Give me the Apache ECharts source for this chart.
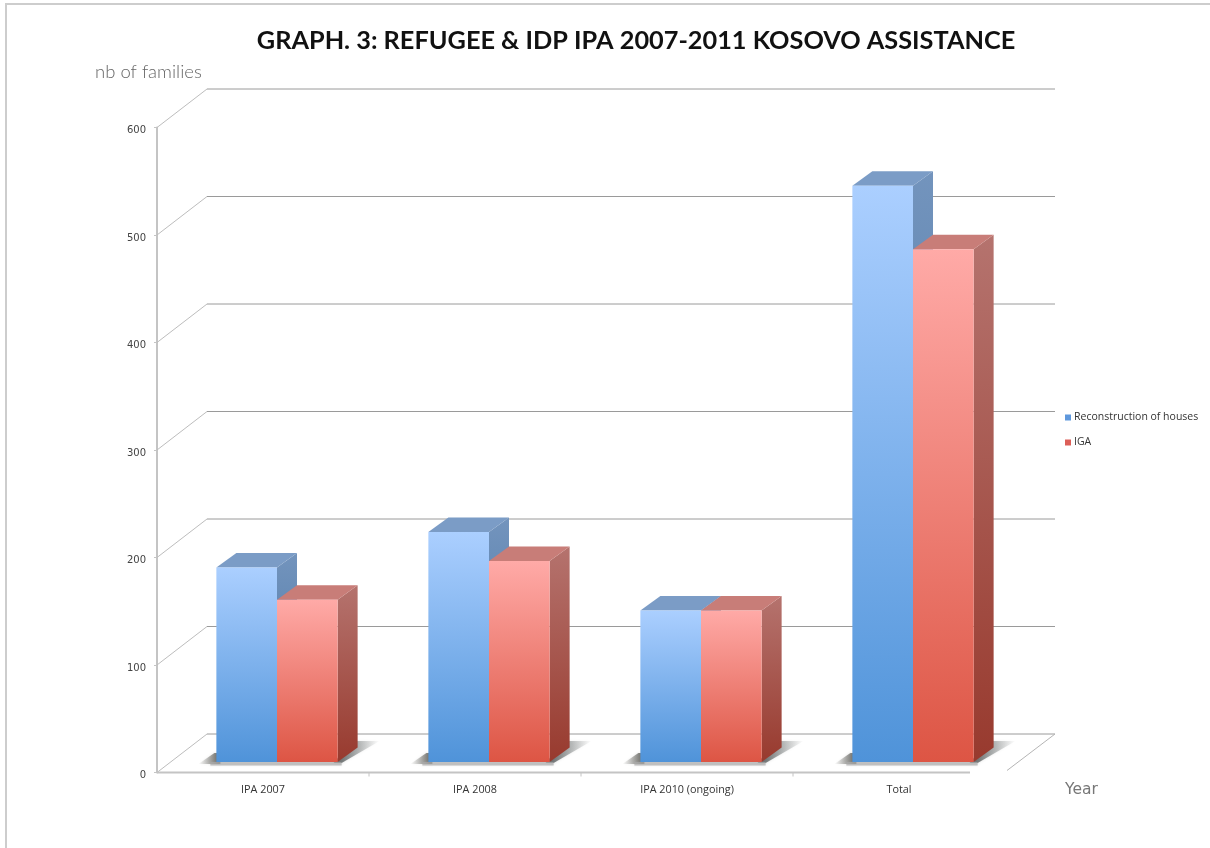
<!DOCTYPE html>
<html><head><meta charset="utf-8">
<style>html,body{margin:0;padding:0;background:#fff}#c{width:1210px;height:848px}</style>
<script src="https://cdn.jsdelivr.net/npm/echarts@6/dist/echarts.min.js"></script>
</head><body><div id="c"></div>
<script>
const categories = ['IPA 2007', 'IPA 2008', 'IPA 2010 (ongoing)', 'Total'];
const reconstruction = [181, 214, 141, 536];
const iga = [151, 187, 141, 477];
const yTicks = [0, 100, 200, 300, 400, 500, 600];

const WALL = [50, 38.5], BAR_INSET = [14, 10.5], BAR_DEPTH = [20, 14.5], BAR_FRACTION = 0.286;
const vg = (a, b) => new echarts.graphic.LinearGradient(0, 0, 0, 1, [{offset: 0, color: a}, {offset: 1, color: b}]);
const hg = (x0, x1, a, b) => new echarts.graphic.LinearGradient(x0, 0, x1, 0, [{offset: 0, color: a}, {offset: 1, color: b}], true);

function renderWall(params, api) {
  const cs = params.coordSys;
  const p = api.coord([0, api.value(1)]);
  const left = cs.x, right = cs.x + cs.width;
  const children = [
    {type: 'polyline', shape: {points: [[left + WALL[0], p[1] - WALL[1]], [right + WALL[0], p[1] - WALL[1]]]}, style: {stroke: '#9a9a9a', lineWidth: 1, fill: null}},
    {type: 'line', shape: {x1: left, y1: p[1], x2: left + WALL[0], y2: p[1] - WALL[1]}, style: {stroke: '#bdbdbd', lineWidth: 1}}
  ];
  if (api.value(1) === 0) {
    children.push({type: 'line', shape: {x1: right + 2, y1: p[1] - 2, x2: right + WALL[0], y2: p[1] - WALL[1]}, style: {stroke: '#b5b5b5', lineWidth: 1}});
    children.push({type: 'line', shape: {x1: left, y1: p[1], x2: right - 35, y2: p[1]}, style: {stroke: '#c4c4c4', lineWidth: 2}});
  }
  return {type: 'group', children};
}
function renderBoundaryTick(params, api) {
  const w = api.size([1, 0])[0];
  const p = api.coord([api.value(0), 0]);
  return {type: 'line', shape: {x1: p[0] + w / 2, y1: p[1], x2: p[0] + w / 2, y2: p[1] + 4}, style: {stroke: '#c4c4c4', lineWidth: 1}};
}
function renderShadow(params, api) {
  const w = api.size([1, 0])[0] * BAR_FRACTION;
  const base = api.coord([api.value(0), 0]);
  const x0 = base[0] + BAR_INSET[0] - w, x1 = base[0] + BAR_INSET[0] + w, y = base[1] - BAR_INSET[1];
  return {type: 'group', children: [
    {type: 'polygon', shape: {points: [[x0 - 18, y + 2], [x0 - 2, y - 9], [x0 + 4, y - 9], [x0 + 4, y + 2]]},
      style: {fill: hg(x0 - 18, x0 + 2, 'rgba(120,120,115,0)', 'rgba(95,95,90,0.9)'), shadowBlur: 3, shadowColor: 'rgba(140,140,140,0.35)'}},
    {type: 'polygon', shape: {points: [[x1 - 4, y + 1], [x1 + 4, y + 1], [x1 + 42, y - 21], [x1 + 14, y - 21]]},
      style: {fill: hg(x1 + 2, x1 + 42, 'rgba(95,100,100,0.9)', 'rgba(130,135,135,0)'), shadowBlur: 3, shadowColor: 'rgba(140,140,140,0.35)'}},
    {type: 'rect', shape: {x: x0 - 6, y: y, width: x1 - x0 + 10, height: 3.5},
      style: {fill: 'rgba(170,170,170,0.65)', shadowBlur: 2, shadowColor: 'rgba(170,170,170,0.5)'}}
  ]};
}
function prism(front, side, top) {
  return function (params, api) {
    const w = api.size([1, 0])[0] * BAR_FRACTION;
    const topP = api.coord([api.value(0), api.value(1)]);
    const base = api.coord([api.value(0), 0]);
    const x0 = topP[0] + BAR_INSET[0] + (params.seriesName === 'IGA' ? 0 : -w);
    const x1 = x0 + w, yt = topP[1] - BAR_INSET[1], yb = base[1] - BAR_INSET[1];
    const dx = BAR_DEPTH[0], dy = BAR_DEPTH[1];
    return {type: 'group', children: [
      {type: 'polygon', shape: {points: [[x1, yt], [x1 + dx, yt - dy], [x1 + dx, yb - dy], [x1, yb]]}, style: {fill: side}},
      {type: 'polygon', shape: {points: [[x0, yt], [x0 + dx, yt - dy], [x1 + dx, yt - dy], [x1, yt]]}, style: {fill: top}},
      {type: 'rect', shape: {x: x0, y: yt, width: w, height: yb - yt}, style: {fill: front}}
    ]};
  };
}
const pairs = a => a.map((v, i) => [i, v]);
const chart = echarts.init(document.getElementById('c'), null, {renderer: 'canvas'});
chart.setOption({
  animation: false,
  backgroundColor: '#fff',
  title: {text: 'GRAPH. 3: REFUGEE & IDP IPA 2007-2011 KOSOVO ASSISTANCE', left: 631, top: 23, textAlign: 'center',
    textStyle: {fontFamily: 'Lato', fontWeight: 700, fontSize: 25.3, color: '#111'}},
  legend: {orient: 'vertical', left: 1060, top: 407, itemWidth: 6, itemHeight: 6, itemGap: 14, icon: 'rect',
    data: ['Reconstruction of houses', 'IGA'],
    textStyle: {fontFamily: 'Open Sans', fontSize: 10.5, color: '#333', padding: [0, 0, 0, -2]}},
  grid: {left: 157, right: 205, top: 127.5, bottom: 75.5, containLabel: false},
  xAxis: {type: 'category', data: categories, boundaryGap: true,
    name: 'Year', nameLocation: 'end', nameGap: 60,
    nameTextStyle: {fontFamily: 'DejaVu Sans', fontSize: 15.5, color: '#777', verticalAlign: 'top', padding: [9, 0, 0, 0]},
    axisLine: {show: false}, axisTick: {show: false},
    axisLabel: {fontFamily: 'Open Sans', fontSize: 10.8, color: '#333', margin: 12}},
  yAxis: {type: 'value', min: 0, max: 600, interval: 100,
    name: 'nb of families', nameLocation: 'end', nameGap: 46,
    nameTextStyle: {fontFamily: 'Lato', fontWeight: 300, fontSize: 18.5, color: '#666', align: 'left', padding: [0, 0, 0, -62]},
    axisLine: {show: true, lineStyle: {color: '#c4c4c4', width: 2}},
    axisTick: {show: true, length: 3, lineStyle: {color: '#c4c4c4'}},
    splitLine: {show: false},
    axisLabel: {fontFamily: 'DejaVu Sans', fontSize: 10, color: '#444', margin: 11, padding: [0, 0, 0, 0], verticalAlign: 'top', lineHeight: 6}},
  tooltip: {show: false},
  graphic: [{type: 'polyline', silent: true, z: -1, shape: {points: [[6, 848], [6, 4], [1210, 4]]}, style: {stroke: '#cdcdcd', lineWidth: 2, fill: null}}],
  series: [
    {type: 'custom', name: 'wall', silent: true, clip: false, renderItem: renderWall, encode: {x: 0, y: 1}, data: yTicks.map(v => [0, v]), z: 1},
    {type: 'custom', name: 'ticks', silent: true, clip: false, renderItem: renderBoundaryTick, encode: {x: 0, y: 1}, data: categories.slice(0, -1).map((c, i) => [i, 0]), z: 1},
    {type: 'custom', name: 'shadow', silent: true, clip: false, renderItem: renderShadow, encode: {x: 0, y: 1}, data: categories.map((c, i) => [i, 0]), z: 2},
    {type: 'custom', name: 'Reconstruction of houses', clip: false, z: 3, itemStyle: {color: '#5f98dc'}, encode: {x: 0, y: 1},
      renderItem: prism(vg('#abcfff', '#4f93d9'), vg('#7394bd', '#3f6e9e'), '#7b9cc6'), data: pairs(reconstruction)},
    {type: 'custom', name: 'IGA', clip: false, z: 4, itemStyle: {color: '#dc5f58'}, encode: {x: 0, y: 1},
      renderItem: prism(vg('#ffaaa7', '#dd5544'), vg('#b5736e', '#983a2e'), '#c87d78'), data: pairs(iga)}
  ]
});
</script></body></html>
